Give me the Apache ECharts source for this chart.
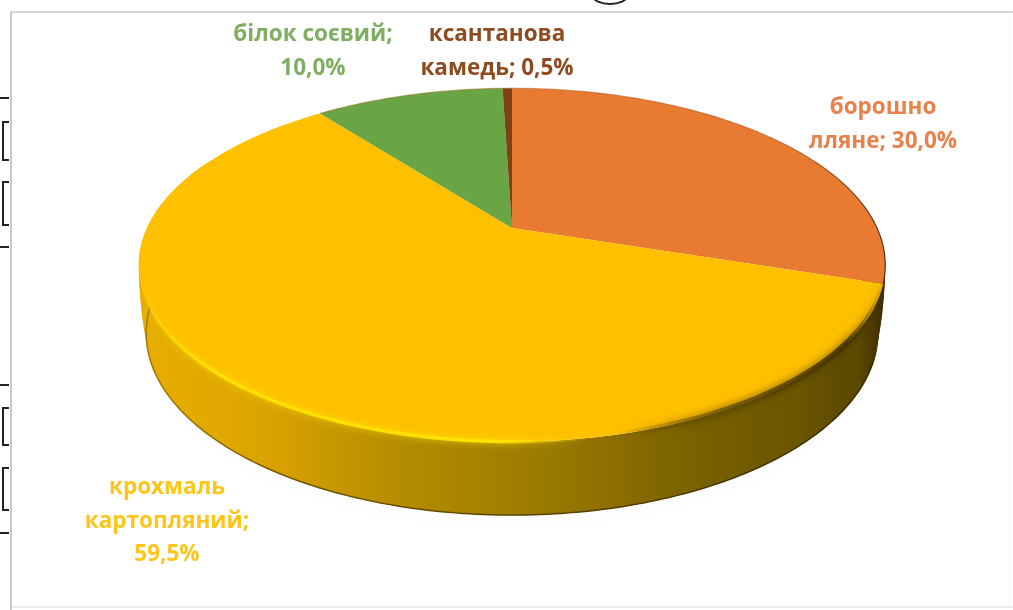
<!DOCTYPE html>
<html>
<head>
<meta charset="utf-8">
<style>html,body{margin:0;padding:0;background:#fff}#chart{width:1013px;height:610px}</style>
<script src="https://cdn.jsdelivr.net/npm/echarts@6/dist/echarts.min.js"></script>
</head>
<body>
<div id="chart"></div>
<script>
// Recipe composition, percent of the blend, clockwise from twelve o'clock
const sliceNames = ['борошно лляне', 'крохмаль картопляний', 'білок соєвий', 'ксантанова камедь'];
const sliceShares = [30.0, 59.5, 10.0, 0.5];
const sliceColors = ['#e97a31', '#ffc000', '#69a544', '#7c4212'];
const labelColors = ['#e9814a', '#ffc51a', '#7fae62', '#8f4a20'];
const labelLines = [
  ['борошно', 'лляне; {v}'],
  ['крохмаль', 'картопляний;', '{v}'],
  ['білок соєвий;', '{v}'],
  ['ксантанова', 'камедь; {v}']
];
const labelAnchors = [[883, 91], [167, 471], [313, 18], [497, 18]];

// Perspective disc: the centre of the disc lands above the centre of its ellipse.
// t = 0 is the top rim, t = 1 the foot of the wall.
const disc = { cx: 512, cy: 228, ax: 365, by: 169, k: 0.209 };
const drop = 67, footNarrow = 0.02, footTall = 0.03;
const wallFrom = 18, wallTo = 82;     // wall is built a little past the side extremes
const rimFrom = 30, rimTo = 74;       // part of the rim that catches light or shade
const footFrom = 27, footTo = 74;     // part of the foot drawn with a dark contact line
const wallLevels = [1, 0.85, 0.7, 0.55, 0.4, 0.25, 0.12, 0];

function project(share, t) {
  const a = share / 100 * Math.PI * 2;
  const u = Math.sin(a), v = -Math.cos(a), w = 1 - disc.k * v;
  const fx = 1 - footNarrow * t * t, fy = 1 + footTall * t;
  return [disc.cx + disc.ax * fx * u / w, disc.cy + drop * t + disc.by * fy * v / w];
}
function arc(from, to, t) {
  const n = Math.max(2, Math.ceil((to - from) * 4)), pts = [];
  for (let i = 0; i <= n; i++) pts.push(project(from + (to - from) * i / n, t));
  return pts;
}
function startOf(i) {
  return sliceShares.slice(0, i).reduce((s, x) => s + x, 0);
}
function hGradient(stops) {
  return new echarts.graphic.LinearGradient(140, 0, 885, 0,
    stops.map(s => ({ offset: (s[0] - 140) / 745, color: s[1] })), true);
}

const wallMain = [[140, '#e8ae00'], [260, '#dca400'], [400, '#b48c00'], [512, '#a07f00'], [600, '#8f7000'], [690, '#7a6200'], [800, '#6a5500'], [860, '#5a4700'], [885, '#3c2c00']];
const wallSide = [[140, '#6a3a10'], [860, '#54380a'], [885, '#3e2a06']];
const footLine = [[140, '#a67a00'], [300, '#6f5500'], [500, '#5a4500'], [885, '#3c2c00']];
const rimLight = [[140, 'rgba(250,220,0,0)'], [165, 'rgba(250,220,0,0.55)'], [210, 'rgba(255,226,0,0.9)'], [500, 'rgba(255,228,0,0.95)'], [590, 'rgba(255,210,0,0)'], [885, 'rgba(255,210,0,0)']];
const rimShade = [[140, 'rgba(90,70,0,0)'], [620, 'rgba(90,70,0,0)'], [720, 'rgba(100,80,0,0.75)'], [845, 'rgba(70,50,0,0.9)'], [882, 'rgba(70,50,0,0.05)'], [885, 'rgba(70,50,0,0)']];
const faceEdge = [[140, 'rgba(120,110,30,0.45)'], [512, 'rgba(170,90,30,0.45)'], [780, 'rgba(150,80,30,0.55)'], [885, 'rgba(85,50,20,0.95)']];

function renderWall(params, api) {
  const i = params.dataIndex, from = Math.max(startOf(i), wallFrom), to = Math.min(startOf(i) + api.value(0), wallTo);
  if (to <= from) return null;
  const main = sliceShares[i] === Math.max(...sliceShares);
  const foot = arc(from, to, 1).reverse();
  const children = wallLevels.map(t => ({
    type: 'polygon',
    shape: { points: arc(from, to, t).concat(t === 1 ? arc(from, to, 0.99).reverse() : foot) },
    style: {
      fill: hGradient(main ? wallMain : wallSide),
      shadowColor: main && t === 1 ? 'rgba(110,125,190,0.32)' : 'transparent',
      shadowBlur: main && t === 1 ? 12 : 0,
      shadowOffsetY: main && t === 1 ? 5 : 0
    }
  }));
  const lineFrom = Math.max(from, footFrom), lineTo = Math.min(to, footTo);
  if (lineTo > lineFrom) {
    children.push({
      type: 'polyline', shape: { points: arc(lineFrom, lineTo, 1) },
      style: { fill: null, stroke: hGradient(main ? footLine : wallSide), lineWidth: 1.5 }
    });
  }
  return { type: 'group', children };
}
function renderFace(params, api) {
  const i = params.dataIndex, from = startOf(i), to = from + api.value(0);
  const rim = arc(from, to, 0);
  const main = sliceShares[i] === Math.max(...sliceShares);
  const children = [
    { type: 'polygon', shape: { points: [[disc.cx, disc.cy]].concat(rim) }, style: { fill: sliceColors[i] } }
  ];
  if (main) {
    const front = arc(Math.max(from, rimFrom), Math.min(to, rimTo), 0);
    children.push({
      type: 'polyline', shape: { points: front },
      style: { fill: null, stroke: hGradient(rimShade), lineWidth: 6, shadowColor: 'rgba(70,50,0,0.85)', shadowBlur: 9 }
    });
    children.push({
      type: 'polyline', shape: { points: front },
      style: { fill: null, stroke: hGradient(rimLight), lineWidth: 3.5, shadowColor: 'rgba(255,228,0,0.9)', shadowBlur: 7 }
    });
  } else {
    children.push({
      type: 'polyline', shape: { points: rim },
      style: { fill: null, stroke: hGradient(faceEdge), lineWidth: 1.2 }
    });
  }
  return { type: 'group', children };
}

// Page furniture around the chart: frame and cut-off marks of the neighbouring table
const frame = [
  [10, 12, 1013, 12, '#d8d8d8', 2], [11, 12, 11, 610, '#c8c8c8', 2],
  [12, 607, 1013, 607, '#ececec', 2], [1010, 14, 1010, 606, '#f4f4f4', 1]
];
const tableRules = [98, 247, 385, 533];
const tableBrackets = [[122, 160], [182, 225], [408, 445], [468, 510]];

const graphics = [];
frame.forEach(f => graphics.push({
  type: 'line', shape: { x1: f[0], y1: f[1], x2: f[2], y2: f[3] }, style: { stroke: f[4], lineWidth: f[5] }, silent: true
}));
tableRules.forEach(y => graphics.push({
  type: 'line', shape: { x1: 0, y1: y, x2: 9, y2: y }, style: { stroke: '#222', lineWidth: 2 }, silent: true
}));
tableBrackets.forEach(b => graphics.push({
  type: 'polyline', shape: { points: [[9, b[0]], [3, b[0]], [3, b[1]], [9, b[1]]] }, style: { fill: null, stroke: '#222', lineWidth: 2 }, silent: true
}));
graphics.push({
  type: 'ellipse', shape: { cx: 610, cy: -4, rx: 17, ry: 8 }, style: { fill: null, stroke: '#222', lineWidth: 2 }, silent: true
});

// Slice labels state the same shares the slices are drawn from
sliceShares.forEach((share, i) => {
  const pct = share.toFixed(1).replace('.', ',') + '%';
  graphics.push({
    type: 'text', x: labelAnchors[i][0], y: labelAnchors[i][1], silent: true, z: 10,
    style: {
      text: labelLines[i].join('\n').replace('{v}', pct),
      fill: labelColors[i], align: 'center', verticalAlign: 'top',
      font: '700 22.5px "Open Sans"', lineHeight: 33.5
    }
  });
});

const chart = echarts.init(document.getElementById('chart'), null, { renderer: 'canvas' });
chart.setOption({
  animation: false,
  backgroundColor: '#ffffff',
  graphic: graphics,
  series: [
    { type: 'custom', coordinateSystem: 'none', z: 2, silent: true, renderItem: renderWall,
      data: sliceShares.map((v, i) => ({ name: sliceNames[i], value: [v] })) },
    { type: 'custom', coordinateSystem: 'none', z: 3, silent: true, renderItem: renderFace,
      data: sliceShares.map((v, i) => ({ name: sliceNames[i], value: [v] })) }
  ]
});
</script>
</body>
</html>
